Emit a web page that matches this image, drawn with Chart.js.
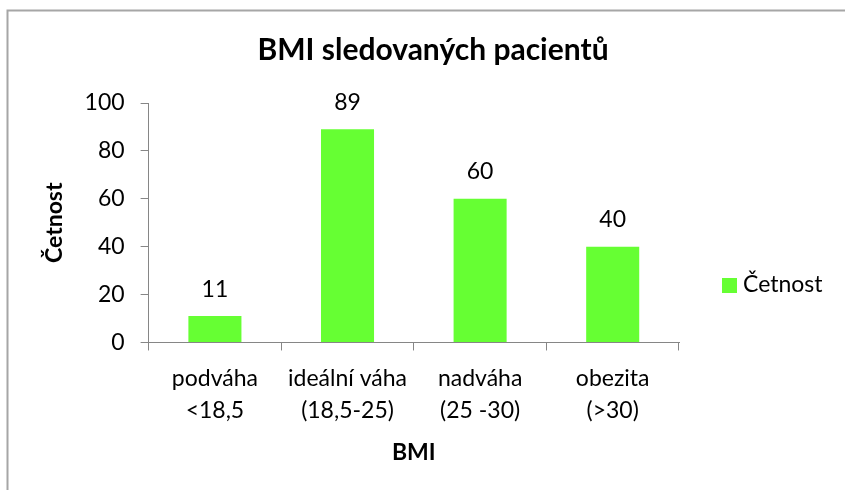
<!DOCTYPE html>
<html lang="cs">
<head>
  <meta charset="UTF-8" />
  <title>BMI sledovaných pacientů</title>
  <script src="https://cdn.jsdelivr.net/npm/chart.js"></script>
  <style>
    html, body { margin: 0; padding: 0; background: #fff; }
    #wrap { width: 845px; height: 490px; position: relative; }
  </style>
</head>
<body>
  <div id="wrap"><canvas id="bmiChart" width="845" height="490"></canvas></div>

  <script>
    const categories = [
      ['podváha', '<18,5'],
      ['ideální váha', '(18,5-25)'],
      ['nadváha', '(25 -30)'],
      ['obezita', '(>30)']
    ];
    const counts = [11, 89, 60, 40];
    const seriesName = 'Četnost';
    const yTicks = [0, 20, 40, 60, 80, 100];

    const FONT = 'Lato, "Open Sans", sans-serif';
    const GREEN = '#66ff33';
    const AXIS = '#868686';

    // white background + grey frame (only top and left edges show in the frame)
    const framePlugin = {
      id: 'frame',
      beforeDraw(chart) {
        const c = chart.ctx;
        c.save();
        c.fillStyle = '#fff';
        c.fillRect(0, 0, chart.width, chart.height);
        c.strokeStyle = '#a6a6a6';
        c.lineWidth = 2;
        c.strokeRect(7.5, 10.5, chart.width + 20, chart.height + 20);
        c.restore();
      }
    };

    // title is centred over the whole frame, not over the padded plot
    const titleSpan = {
      id: 'titleSpan',
      afterLayout(chart) {
        const t = chart.titleBlock;
        if (!t) return;
        t.left = 21;
        t.right = chart.width;
        t.width = t.right - t.left;
      }
    };

    // value above each bar
    const valueLabels = {
      id: 'valueLabels',
      afterDatasetsDraw(chart) {
        const c = chart.ctx;
        const meta = chart.getDatasetMeta(0);
        c.save();
        c.font = '23px ' + FONT;
        c.fillStyle = '#000';
        c.textAlign = 'center';
        c.textBaseline = 'middle';
        meta.data.forEach((bar, i) => {
          c.fillText(String(chart.data.datasets[0].data[i]), bar.x, bar.y - 27);
        });
        c.restore();
      }
    };

    // legend at right, a bit below the middle like in the excel original
    const sideLegend = {
      id: 'sideLegend',
      afterDraw(chart) {
        const c = chart.ctx;
        const ds = chart.data.datasets[0];
        const x = chart.chartArea.right + 43;
        const y = 285;
        c.save();
        c.fillStyle = ds.backgroundColor;
        c.fillRect(x, y - 7, 15, 15);
        c.font = '23px ' + FONT;
        c.fillStyle = '#000';
        c.textAlign = 'left';
        c.textBaseline = 'middle';
        c.fillText(ds.label, x + 21, y);
        c.restore();
      }
    };

    new Chart(document.getElementById('bmiChart'), {
      type: 'bar',
      data: {
        labels: categories,
        datasets: [{
          label: seriesName,
          data: counts,
          backgroundColor: GREEN,
          borderWidth: 0,
          categoryPercentage: 1,
          barPercentage: 0.4
        }]
      },
      options: {
        responsive: false,
        animation: false,
        layout: { padding: { left: 28, right: 166, top: 0, bottom: 24 } },
        plugins: {
          legend: { display: false },
          tooltip: { enabled: false },
          title: {
            display: true,
            text: 'BMI sledovaných pacientů',
            color: '#000',
            font: { family: FONT, size: 30, weight: 'bold', lineHeight: 1.2 },
            padding: { top: 32, bottom: 35 }
          }
        },
        scales: {
          x: {
            grid: { drawOnChartArea: false, tickLength: 8, color: AXIS, offset: true },
            border: { color: AXIS, width: 1 },
            ticks: { color: '#000', font: { family: FONT, size: 23, lineHeight: 1.39 }, padding: 12, maxRotation: 0 },
            title: {
              display: true,
              text: 'BMI',
              color: '#000',
              font: { family: FONT, size: 23, weight: 'bold', lineHeight: 1.2 },
              padding: { top: 0, bottom: 0 }
            }
          },
          y: {
            min: 0,
            max: 100,
            afterBuildTicks(axis) { axis.ticks = yTicks.map(v => ({ value: v })); },
            grid: { drawOnChartArea: false, tickLength: 8, color: AXIS },
            border: { color: AXIS, width: 1 },
            ticks: { color: '#000', font: { family: FONT, size: 23 }, padding: 16 },
            title: {
              display: true,
              text: 'Četnost',
              color: '#000',
              font: { family: FONT, size: 23, weight: 'bold', lineHeight: 1.2 },
              padding: { top: 13, bottom: 0 }
            }
          }
        }
      },
      plugins: [framePlugin, titleSpan, valueLabels, sideLegend]
    });
  </script>
</body>
</html>
